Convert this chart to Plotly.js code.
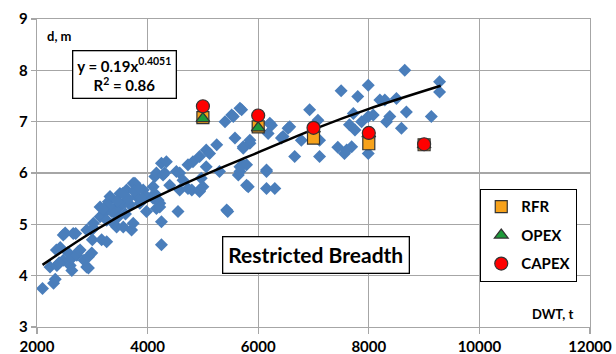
<!DOCTYPE html>
<html>
<head>
<meta charset="utf-8">
<script src="https://cdn.plot.ly/plotly-3.0.1.min.js"></script>
<style>
html,body{margin:0;padding:0;background:#fff;}
#chart{width:616px;height:354px;}
</style>
</head>
<body>
<div id="chart"></div>
<script>
// Ship data (DWT, t ; draught d, m)
const shipDWT = [
  2100,2300,2330,2235,2360,2475,2400,2350,2420,2475,2510,2656,2560,2600,2630,2630,2700,2720,2747,2780,2850,2898,2930,2930,2990,2900,2988,3020,3000,3169,3260,
  3140,3200,3140,3020,3260,3290,3320,3380,3440,3470,3500,3500,3560,3560,3620,3680,3710,3740,3740,3770,3800,3860,3920,3980,3980,3400,3350,3600,3650,3450,3750,3850,3300,3900,3200,3550,
  4100,4100,4130,4130,4160,4190,4160,4220,4220,4250,4250,4250,4280,4310,4340,4400,4520,4550,4580,4580,4640,4730,4730,4800,4820,4940,4940,4940,4970,5000,5060,5060,5120,5250,5300,5400,5430,5450,5520,5550,5580,5640,5670,5670,5670,5700,5730,5730,5730,5790,5790,5820,5850,5850,
  6150,6150,6150,6180,6210,6240,6300,6420,6450,6540,6570,6660,6780,6930,7080,7110,7110,
  7440,7500,7560,7600,7650,7690,7720,7750,7800,7870,7990,7990,7990,8080,8200,8290,8320,8380,8500,8590,8650,8680,9130,9280,9280
];
const shipDraught = [
  3.75,3.85,3.93,4.17,4.2,4.3,4.25,4.5,4.55,4.79,4.83,4.82,4.45,4.2,4.34,4.1,4.82,4.4,4.47,4.5,4.3,4.17,4.15,4.37,4.44,4.89,4.89,4.93,4.7,4.7,4.66,
  5.34,5.2,5.15,5.02,5.08,5.44,5.54,5.02,4.95,5.15,5.34,5.6,5.41,4.95,5.67,5.38,4.89,5.02,5.8,5.8,5.54,5.41,5.67,5.54,5.25,5.3,5.25,5.2,5.5,5.45,5.65,5.7,5.35,5.5,5.3,5.6,
  5.51,5.73,5.6,5.93,6.0,5.47,5.31,5.41,5.34,5.05,4.6,6.19,5.96,6.0,6.22,5.76,6.03,5.25,5.67,6.0,5.86,6.16,5.7,5.67,6.22,5.64,5.67,6.32,5.9,5.73,6.45,6.12,6.38,6.55,6.03,7.0,5.28,5.25,7.13,7.1,6.68,5.96,6.12,6.03,7.26,7.23,6.48,6.51,6.16,5.76,6.16,5.73,6.58,6.64,
  6.06,5.7,6.03,6.77,6.97,6.93,5.7,6.68,6.71,6.87,6.9,6.32,6.64,7.23,7.03,6.64,6.32,
  6.5,7.6,6.38,6.45,6.94,6.51,7.16,6.84,7.49,7.0,7.71,6.38,7.1,7.13,7.42,7.42,7.0,7.1,7.45,6.87,8.0,7.19,7.1,7.78,7.58
];
// Trend curve values
const trendDWT = [2100,3000,4000,5000,6000,7000,8000,9300];
const trendD   = [4.21,4.85,5.45,5.95,6.40,6.85,7.25,7.70];
// Designs
const designDWT = [5000,6000,7000,8000,9000];
const rfrD   = [7.08,6.90,6.68,6.57,6.55];
const opexD  = [7.06,6.88,6.86,6.76,6.55];
const capexD = [7.30,7.12,6.88,6.78,6.56];
// Axis ticks
const xTicks = [2000,4000,6000,8000,10000,12000];
const yTicks = [3,4,5,6,7,8,9];

const FONT = 'Lato, "Open Sans", Arial, sans-serif';
const grid = '#a6a6a6';

const traces = [
  {x: shipDWT, y: shipDraught, type:'scatter', mode:'markers', showlegend:false,
   marker:{symbol:'diamond', size:10, color:'#4a7ebb'}},
  {x: trendDWT, y: trendD, type:'scatter', mode:'lines', showlegend:false,
   line:{color:'#000', width:2.5, shape:'spline', smoothing:1}},
  {x: designDWT, y: rfrD, type:'scatter', mode:'markers', name:'RFR', legendgroup:'a',
   marker:{symbol:'square', size:12, color:'#f7a21b', line:{color:'#333', width:1.2}}},
  {x: designDWT, y: opexD, type:'scatter', mode:'markers', name:'OPEX', legendgroup:'b',
   marker:{symbol:'triangle-up', size:12, color:'#1e9a3a', line:{color:'#333', width:1.2}}},
  {x: designDWT, y: capexD, type:'scatter', mode:'markers', name:'CAPEX', legendgroup:'c',
   marker:{symbol:'circle', size:13, color:'#ff0000', line:{color:'#333', width:1.2}}}
];

const layout = {
  width:616, height:354,
  margin:{l:37, r:26, t:19, b:27, pad:0},
  paper_bgcolor:'#fff', plot_bgcolor:'#fff',
  font:{family:FONT, size:14, color:'#000'},
  xaxis:{range:[2000,12000], tickvals:xTicks, ticktext:xTicks.map(String),
    showgrid:true, gridcolor:grid, gridwidth:1.3, zeroline:false,
    showline:true, linecolor:grid, linewidth:1.3, mirror:true,
    ticks:'outside', ticklen:6, tickcolor:grid, tickwidth:1.3,
    tickfont:{family:FONT, size:15, weight:'bold'}},
  yaxis:{range:[3,9], tickvals:yTicks, ticktext:yTicks.map(String),
    showgrid:true, gridcolor:grid, gridwidth:1.3, zeroline:false,
    showline:true, linecolor:grid, linewidth:1.3, mirror:true,
    ticks:'outside', ticklen:5, tickcolor:grid, tickwidth:1.3,
    tickfont:{family:FONT, size:15, weight:'bold'}},
  showlegend:true,
  legend:{x:0.801, y:0.448, xanchor:'left', yanchor:'top',
    bgcolor:'#fff', bordercolor:'#000', borderwidth:1.3,
    font:{family:FONT, size:15, weight:'bold'},
    traceorder:'grouped', tracegroupgap:6, itemwidth:30},
  annotations:[
    {xref:'paper', yref:'paper', x:0.0145, y:0.945, xanchor:'left', yanchor:'middle',
     text:'d, m', showarrow:false, font:{family:FONT, size:13, weight:'bold'}},
    {xref:'paper', yref:'paper', x:0.973, y:0.042, xanchor:'right', yanchor:'middle',
     text:'DWT, t', showarrow:false, font:{family:FONT, size:13, weight:'bold'}},
    {xref:'paper', yref:'paper', x:0.159, y:0.82, xanchor:'center', yanchor:'middle',
     text:'y = 0.19x<sup>0.4051</sup><br>R<sup>2</sup> = 0.86', showarrow:false, align:'center',
     bgcolor:'#fff', bordercolor:'#000', borderwidth:1.3, borderpad:4,
     font:{family:FONT, size:15, weight:'bold'}},
    {xref:'paper', yref:'paper', x:0.5054, y:0.234, xanchor:'center', yanchor:'middle',
     text:'Restricted Breadth', showarrow:false,
     bgcolor:'#fff', bordercolor:'#000', borderwidth:1.3, borderpad:5,
     font:{family:FONT, size:21, weight:'bold'}}
  ]
};

Plotly.newPlot('chart', traces, layout, {staticPlot:true, displayModeBar:false});
</script>
</body>
</html>
